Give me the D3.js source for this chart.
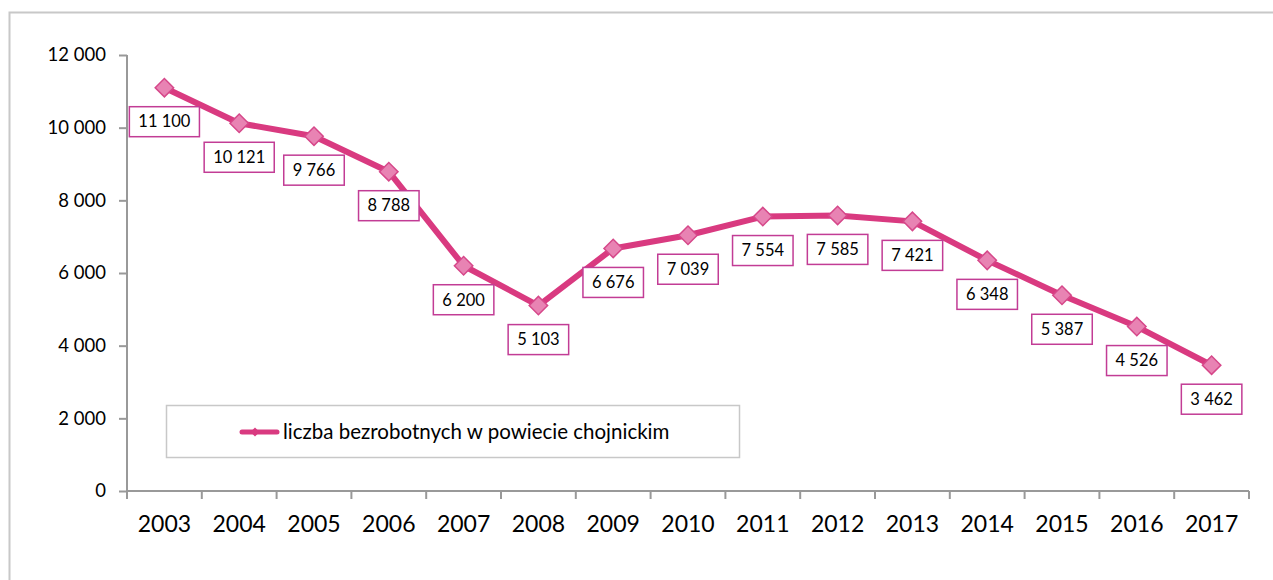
<!DOCTYPE html>
<html><head><meta charset="utf-8">
<script src="https://cdn.jsdelivr.net/npm/d3@7"></script>
<style>body{margin:0;background:#fff}svg{display:block;font-family:Lato,"Open Sans",sans-serif}</style>
</head><body><svg id="c" width="1273" height="580"></svg>
<script>
const years = ["2003","2004","2005","2006","2007","2008","2009","2010","2011","2012","2013","2014","2015","2016","2017"];
const values = [11100,10121,9766,8788,6200,5103,6676,7039,7554,7585,7421,6348,5387,4526,3462];
const yTicks = [0,2000,4000,6000,8000,10000,12000];
const seriesName = "liczba bezrobotnych w powiecie chojnickim";

const svg = d3.select("#c");
const fmt = v => d3.format(",")(v).replace(/,/g, "\u00a0");
const lineColor = "#d93a80", markFill = "#e883b3", markStroke = "#d6488a", labelBorder = "#c23c95", axisColor = "#999";

// outer border
svg.append("rect").attr("x",9.5).attr("y",12.5).attr("width",1300).attr("height",600)
  .attr("fill","none").attr("stroke","#c8c8c8").attr("stroke-width",2);

const x = d3.scaleBand().domain(years).range([127,1249]);
const y = d3.scaleLinear().domain([0,12000]).range([491,55]);

const gy = svg.append("g").attr("transform","translate(127,0)")
  .call(d3.axisLeft(y).tickValues(yTicks).tickSize(8).tickPadding(13).tickFormat(fmt));
const gx = svg.append("g").attr("transform","translate(0,491)")
  .call(d3.axisBottom(x).tickSize(0).tickPadding(25));
// category boundary ticks
gx.selectAll(".bt").data(years.concat(["end"])).join("line").attr("class","bt")
  .attr("x1",(d,i)=>127+i*x.step()).attr("x2",(d,i)=>127+i*x.step())
  .attr("y1",0).attr("y2",8).attr("stroke",axisColor).attr("stroke-width",2);
[gx,gy].forEach(g=>{g.selectAll(".domain").attr("stroke",axisColor).attr("stroke-width",2);
  g.selectAll(".tick line").attr("stroke",axisColor).attr("stroke-width",2);
  g.selectAll("text").attr("fill","#000").attr("font-family","Lato,'Open Sans',sans-serif");});
gy.selectAll("text").attr("font-size",18.5);
gx.selectAll("text").attr("font-size",23);
gx.select(".domain").attr("d","M127,0H1249");
gy.select(".domain").attr("d","M0,55V491");

const cx = d => x(d)+x.bandwidth()/2;
const line = d3.line().x((d,i)=>cx(years[i])).y(d=>y(d));
svg.append("path").datum(values).attr("d",line).attr("fill","none")
  .attr("stroke",lineColor).attr("stroke-width",6).attr("stroke-linejoin","round");

const sym = d3.symbol().type(d3.symbolSquare).size(170);
svg.selectAll(".m").data(values).join("path").attr("class","m")
  .attr("d",sym).attr("transform",(d,i)=>`translate(${cx(years[i])},${y(d)}) rotate(45)`)
  .attr("fill",markFill).attr("stroke",markStroke).attr("stroke-width",1.5);

const lab = svg.selectAll(".lab").data(values).join("g").attr("class","lab")
  .attr("transform",(d,i)=>`translate(${cx(years[i])},${y(d)+34})`);
lab.each(function(d){
  const g = d3.select(this);
  const t = g.append("text").attr("text-anchor","middle").attr("dy","0.35em")
    .attr("font-size",16.5).attr("fill","#000").text(fmt(d));
  const w = t.node().getComputedTextLength()+18;
  g.insert("rect","text").attr("x",-w/2).attr("y",-15).attr("width",w).attr("height",30)
    .attr("fill","#fff").attr("stroke",labelBorder).attr("stroke-width",1.5);
});

// legend
const lg = svg.append("g");
lg.append("rect").attr("x",166.5).attr("y",405.5).attr("width",573).attr("height",52)
  .attr("fill","#fff").attr("stroke","#c8c8c8").attr("stroke-width",1.5);
lg.append("line").attr("x1",242).attr("x2",277).attr("y1",432).attr("y2",432)
  .attr("stroke",lineColor).attr("stroke-width",5).attr("stroke-linecap","round");
lg.append("path").attr("d",d3.symbol().type(d3.symbolSquare).size(40))
  .attr("transform","translate(255,432) rotate(45)").attr("fill",lineColor);
lg.append("text").attr("x",283).attr("y",432).attr("dy","0.35em").attr("font-size",20.5)
  .attr("fill","#000").text(seriesName);
</script></body></html>
